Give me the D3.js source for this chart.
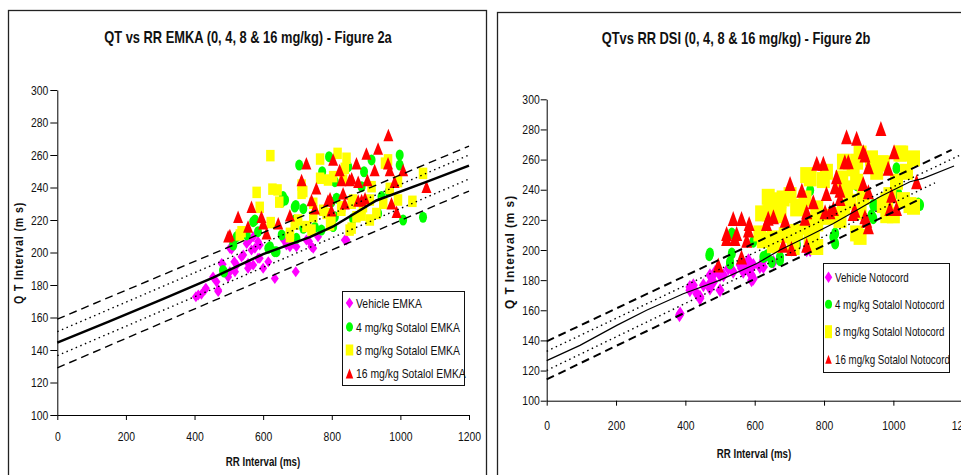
<!DOCTYPE html>
<html>
<head>
<meta charset="utf-8">
<script src="https://cdn.jsdelivr.net/npm/d3@7"></script>
<style>
html,body{margin:0;padding:0;background:#fff;}
svg{display:block;}
text{font-family:'Liberation Sans',Arial,sans-serif;}
</style>
</head>
<body>
<svg id="chart" width="961" height="475"></svg>
<script>
// ---------- DATA ----------
const xTicks = [0, 200, 400, 600, 800, 1000, 1200];
const yTicks = [100, 120, 140, 160, 180, 200, 220, 240, 260, 280, 300];

const titleA = "QT vs RR EMKA (0, 4, 8 & 16 mg/kg) - Figure 2a";
const titleB = "QTvs RR DSI (0, 4, 8 & 16 mg/kg) - Figure 2b";
const xLabel = "RR Interval (ms)";
const yLabelA = "Q T Interval (m s)";
const yLabelB = "Q T Interval (m s)";
const legendA = ["Vehicle EMKA", "4 mg/kg Sotalol EMKA", "8 mg/kg Sotalol EMKA", "16 mg/kg Sotalol EMKA"];
const legendB = ["Vehicle Notocord", "4 mg/kg Sotalol Notocord", "8 mg/kg Sotalol Notocord", "16 mg/kg Sotalol Notocord"];

// Figure 2a (EMKA) – [RR, QT]
const vehicleA = [[404,172.8],[411,173.9],[420,174.3],[430,177],[433,178],[454,185],[464,182],[469,176],[469,177],[479,193.3],[482,192.7],[498,185],[503,188.2],[503,202.6],[508,202],[516,194.3],[518,188.2],[523,192.3],[537,197.4],[542,198.5],[552,205.6],[556,190.3],[556,193.3],[561,207.7],[566,201.6],[571,192.3],[571,209.7],[576,202.6],[585,196.4],[585,206.7],[590,204.6],[590,196.4],[600,190.3],[615,194.3],[634,184],[660,207.7],[668,204.6],[678,203.6],[688,205.6],[695,188.2],[697,203.6],[726,207.7],[734,206.7],[741,203.6],[746,202.6],[760,209.7],[838,207.7],[843,207.7]];
const sot4A = [[483,189],[486,188],[513,204.6],[513,206.7],[523,209.8],[552,210.8],[571,219],[576,220],[585,212.8],[615,202.6],[620,203.6],[634,200.5],[639,200.5],[654,210.8],[654,231],[658,234.4],[664,232.3],[692,228],[692,220],[695,229],[697,208.7],[705,253.8],[717,227],[717,214.9],[751,215.5],[770,213.8],[772,249.7],[792,259],[799,231],[804,216],[809,243.6],[809,222],[814,233.4],[848,252.8],[862,221],[887,240.5],[894,249.7],[916,257],[935,224],[945,234.4],[966,237.5],[998,260],[998,253.8],[1008,220],[1066,221.7]];
const sot8A = [[532,210.8],[537,212.8],[581,237],[590,227.8],[621,259.6],[622,218.4],[627,239],[642,238.5],[647,231],[678,211.8],[678,209.7],[692,217.5],[702,220],[712,236.4],[712,241.5],[717,237.5],[726,216],[741,213.8],[746,222],[746,230.3],[766,257.5],[766,245.7],[775,226],[785,224],[789,244.6],[795,217],[799,221],[804,246.7],[817,261],[828,228.2],[828,226],[833,244.6],[838,251.8],[843,258],[852,213.8],[858,230.3],[858,215],[862,232.3],[872,222],[887,223],[891,228.2],[911,232.3],[911,220],[916,240.5],[930,224],[950,230.3],[955,255],[964,257],[969,239.5],[993,243.6],[993,232.3],[1035,231.5],[1066,248.7]];
const sot16A = [[498,210],[503,210.8],[527,222],[556,216],[566,228.2],[595,222],[600,218],[610,211.8],[644,218],[678,223],[712,244.6],[726,255],[741,232.3],[751,227.2],[755,239.5],[789,232],[795,233.4],[799,226],[804,257.3],[823,250.8],[828,244.6],[833,236.4],[838,230.3],[852,244.6],[858,245.7],[872,255],[877,243.6],[877,232],[887,232.3],[897,233.4],[901,261],[904,244.6],[925,250.8],[935,264],[965,272.3],[964,255],[969,250.8],[974,230.3],[983,243.6],[989,225.1],[1008,250.8],[1076,240.5]];

// regression fit and bands, figure 2a
const fitA = [[0,144.5],[150,157.5],[309,171.5],[454,184.5],[600,199],[736,209.5],[804,216],[930,232],[1076,243.5],[1200,253.5]];
const ciUpA = [[0,151.3],[1200,260]];
const ciLoA = [[0,136.5],[1200,245.2]];
const piUpA = [[0,159],[1200,265.5]];
const piLoA = [[0,129],[1200,237.8]];

// Figure 2b (DSI / Notocord) – [RR, QT]
const vehicleB = [[383,156.7],[385,157.8],[413,175.5],[413,173.3],[423,176.6],[433,171],[442,167.8],[442,168.9],[452,176.6],[471,174.4],[471,183.3],[471,177.7],[481,178.8],[486,185.5],[500,173.3],[500,183.3],[510,183.3],[524,187.7],[538,185.5],[558,190],[562,187.7],[567,185.5],[577,188.8],[582,193.2],[587,184.4],[591,180],[591,183.3],[596,190],[596,181],[615,188.8],[625,188.8],[625,193.2],[654,192],[721,202.1],[750,199.9],[760,199.9]];
const sot4B = [[469,196.5],[471,197.7],[529,191],[529,192],[534,197.7],[534,211],[596,205.4],[625,195.4],[635,196.5],[649,192],[673,195.4],[673,193.2],[706,199.9],[721,204.3],[721,203.2],[760,239.7],[827,208.7],[832,204.3],[832,211],[894,243],[937,223],[942,229.8],[942,221],[947,229.8],[1009,254.2],[1014,237.5],[1072,230.9],[1077,229.8]];
const sot8B = [[615,211],[620,224.3],[625,206.5],[639,235.3],[639,224.3],[644,226.4],[644,231],[654,230.9],[654,207.7],[654,203.2],[673,223.1],[673,233],[682,234.2],[688,209.8],[702,236.4],[711,202],[721,212],[721,227.6],[731,228.7],[745,234.2],[750,249.7],[755,215.4],[760,247.5],[760,206.5],[769,207.6],[779,217.6],[779,227.6],[779,202],[798,246.4],[807,251.9],[807,222],[836,223.1],[846,219.8],[851,247.5],[856,258.6],[856,228.7],[865,240.9],[875,232],[884,254.2],[894,258.6],[894,245.3],[894,211],[904,264],[904,225.3],[904,208.7],[913,235.3],[937,260.8],[952,251.9],[966,257.5],[971,257.5],[971,229.8],[981,223.1],[981,233],[990,236.4],[1000,223],[1009,245.3],[1019,264],[1024,264],[1029,233.1],[1038,251.9],[1048,229.8],[1058,260.8],[1058,228.7]];
const sot16B = [[495,190],[519,211],[519,207.6],[538,220.9],[543,207.6],[548,211],[562,220.9],[562,195.4],[577,206.5],[582,213.2],[584,217.6],[634,217.6],[639,221],[654,222],[682,203.2],[688,219.8],[702,244.2],[706,201],[736,239.7],[745,221],[750,225.3],[750,203.2],[769,232],[779,257.5],[798,257.5],[803,225.3],[807,237.5],[817,225.3],[827,227.6],[832,241.9],[836,248.6],[846,239.7],[846,234.2],[860,258.6],[865,275.2],[870,258.6],[884,224.3],[889,226.4],[894,274.1],[913,265.2],[913,244.2],[918,263],[918,222],[923,219.8],[928,255.2],[928,238.6],[928,215.4],[964,280.7],[985,254.2],[990,227.6],[995,236.4],[1002,265.2],[1009,227.6],[1067,245.3]];

// regression fit and bands, figure 2b
const fitB = [[0,126.6],[96,136.7],[202,150],[288,160],[394,171],[500,180],[606,191],[673,200],[760,209.8],[827,217.6],[894,226.4],[961,235.3],[1048,245.3],[1086,247.5],[1175,255.7]];
const ciUpB = [[0,132.8],[1200,263.8]];
const ciLoB = [[0,120.1],[1120,244.6]];
const piUpB = [[0,139.4],[1168,266.4]];
const piLoB = [[0,114.1],[1070,233]];

// ---------- DRAW ----------
const svg = d3.select("#chart");
const colors = ["#FF00FF", "#00FF00", "#FFFF00", "#FF0000"];
const shapes = ["diamond", "circle", "square", "triangle"];

// reference text is horizontally condensed: squeeze about the text anchor
function condense(sel, f) {
  sel.each(function () {
    const s = d3.select(this);
    const ax = +(s.attr("x") || 0), ay = +(s.attr("y") || 0);
    const prev = s.attr("transform") || "";
    s.attr("transform", `${prev} translate(${ax},${ay}) scale(${f},1) translate(${-ax},${-ay})`);
  });
}

function shapePath(type, w, h) {
  const p = d3.path();
  if (type === "diamond") { p.moveTo(0,-h/2); p.lineTo(w/2,0); p.lineTo(0,h/2); p.lineTo(-w/2,0); p.closePath(); }
  else if (type === "square") { p.rect(-w/2,-h/2,w,h); }
  else { p.moveTo(0,-h/2); p.lineTo(w/2,h/2); p.lineTo(-w/2,h/2); p.closePath(); }
  return p.toString();
}
function ellipsePath(w, h) {
  const rx = w/2, ry = h/2;
  return `M${-rx},0A${rx},${ry} 0 1,0 ${rx},0A${rx},${ry} 0 1,0 ${-rx},0Z`;
}
function markerPath(type, size) {
  return type === "circle" ? ellipsePath(size[0], size[1]) : shapePath(type, size[0], size[1]);
}

function panel(cfg) {
  const g = svg.append("g");
  g.append("rect").attr("x", cfg.frame[0]).attr("y", cfg.frame[1])
    .attr("width", cfg.frame[2]).attr("height", cfg.frame[3])
    .attr("fill", "#fff").attr("stroke", "#222").attr("stroke-width", 1.3);

  const x = d3.scaleLinear().domain([0, 1200]).range(cfg.xr);
  const y = d3.scaleLinear().domain([100, 300]).range(cfg.yr);

  const ya = g.append("g").attr("transform", `translate(${cfg.xr[0]},0)`)
    .call(d3.axisLeft(y).tickValues(yTicks).tickFormat(d3.format("d")).tickSize(cfg.yTick).tickPadding(cfg.yPad).tickSizeOuter(0));
  const xa = g.append("g").attr("transform", `translate(0,${cfg.yr[0]})`)
    .call(d3.axisBottom(x).tickValues(xTicks).tickFormat(d3.format("d")).tickSize(5).tickPadding(cfg.xPad).tickSizeOuter(0));
  [ya, xa].forEach(a => {
    a.select(".domain").attr("stroke", "#000").attr("stroke-width", 1);
    a.selectAll(".tick line").attr("stroke", "#000");
    a.selectAll("text").attr("fill", "#111").style("font-size", cfg.tickFont + "px")
      .style("font-family", "'Liberation Sans',Arial,sans-serif");
    condense(a.selectAll("text"), 0.8);
  });

  const line = d3.line().x(d => x(d[0])).y(d => y(d[1]));

  cfg.series.forEach((s, i) => {
    g.append("g").selectAll("path").data(s).join("path")
      .attr("transform", d => `translate(${x(d[0])},${y(d[1])})`)
      .attr("d", markerPath(shapes[i], cfg.mSize[i]))
      .attr("fill", colors[i]);
  });

  g.append("path").attr("d", line(cfg.fit)).attr("fill", "none").attr("stroke", "#000").attr("stroke-width", cfg.fitW);
  [cfg.ciUp, cfg.ciLo].forEach(l => g.append("path").attr("d", line(l)).attr("fill", "none")
    .attr("stroke", "#000").attr("stroke-width", 1.4).attr("stroke-dasharray", "1.5,3.5"));
  [cfg.piUp, cfg.piLo].forEach(l => g.append("path").attr("d", line(l)).attr("fill", "none")
    .attr("stroke", "#000").attr("stroke-width", cfg.dashW).attr("stroke-dasharray", "8,5"));

  const t = g.append("text").attr("x", cfg.title[1]).attr("y", cfg.title[2]).attr("text-anchor", "middle")
    .style("font-size", "16.5px").style("font-weight", "bold").attr("fill", "#111").text(cfg.title[0]);
  condense(t, 0.78);
  const xl = g.append("text").attr("x", cfg.xl[0]).attr("y", cfg.xl[1]).attr("text-anchor", "middle")
    .style("font-size", "13.5px").style("font-weight", "bold").attr("fill", "#111").text(xLabel);
  condense(xl, 0.72);
  const yl = g.append("text").attr("x", 0).attr("y", 0)
    .attr("transform", `translate(${cfg.yl[1]},${cfg.yl[2]}) rotate(-90)`).attr("text-anchor", "middle")
    .style("font-size", "12.5px").style("font-weight", "bold").style("letter-spacing", "1px").attr("fill", "#111").text(cfg.yl[0]);
  condense(yl, cfg.yl[3]);

  const L = cfg.legend;
  g.append("rect").attr("x", L.box[0]).attr("y", L.box[1]).attr("width", L.box[2]).attr("height", L.box[3])
    .attr("fill", "#fff").attr("stroke", "#111").attr("stroke-width", 1);
  L.labels.forEach((tx, i) => {
    g.append("path").attr("transform", `translate(${L.mx},${L.ys[i]})`)
      .attr("d", markerPath(shapes[i], L.mSize[i])).attr("fill", colors[i]);
    const lt = g.append("text").attr("x", L.tx).attr("y", L.ys[i]).attr("dy", "0.36em")
      .style("font-size", L.font + "px").attr("fill", "#111").text(tx);
    condense(lt, L.sq);
  });
}

panel({
  frame: [8.5, 10.5, 478, 480],
  xr: [57.3, 469], yr: [415, 90],
  yTick: 7, yPad: 2, xPad: 12, tickFont: 13,
  series: [vehicleA, sot4A, sot8A, sot16A],
  mSize: [[8,11],[8,11],[8.5,11.5],[10,12.5]],
  fit: fitA, ciUp: ciUpA, ciLo: ciLoA, piUp: piUpA, piLo: piLoA,
  fitW: 2.5, dashW: 1.4,
  title: [titleA, 248, 43],
  xl: [263, 466],
  yl: [yLabelA, 23, 253, 0.85],
  legend: { box: [342.5, 291.5, 122, 94], mx: 349.5, tx: 356, ys: [303, 327, 350, 373.5],
            labels: legendA, font: 13, sq: 0.8, mSize: [[7.5,11],[7,9.5],[7.5,11],[7.5,10]] }
});

panel({
  frame: [497.5, 12.5, 480, 480],
  xr: [546.7, 962.7], yr: [400.7, 99.3],
  yTick: 6, yPad: 1, xPad: 15, tickFont: 13,
  series: [vehicleB, sot4B, sot8B, sot16B],
  mSize: [[9,14],[8,12],[13,16],[11,15]],
  fit: fitB, ciUp: ciUpB, ciLo: ciLoB, piUp: piUpB, piLo: piLoB,
  fitW: 1.2, dashW: 2,
  title: [titleB, 736, 44],
  xl: [754, 458],
  yl: [yLabelB, 514, 252, 0.95],
  legend: { box: [823.5, 263.5, 126, 109], mx: 828.5, tx: 835, ys: [277.3, 304.3, 331.7, 359.3],
            labels: legendB, font: 13, sq: 0.75, mSize: [[7.5,11.5],[7,9],[7,13],[6.5,9]] }
});
</script>
</body>
</html>
